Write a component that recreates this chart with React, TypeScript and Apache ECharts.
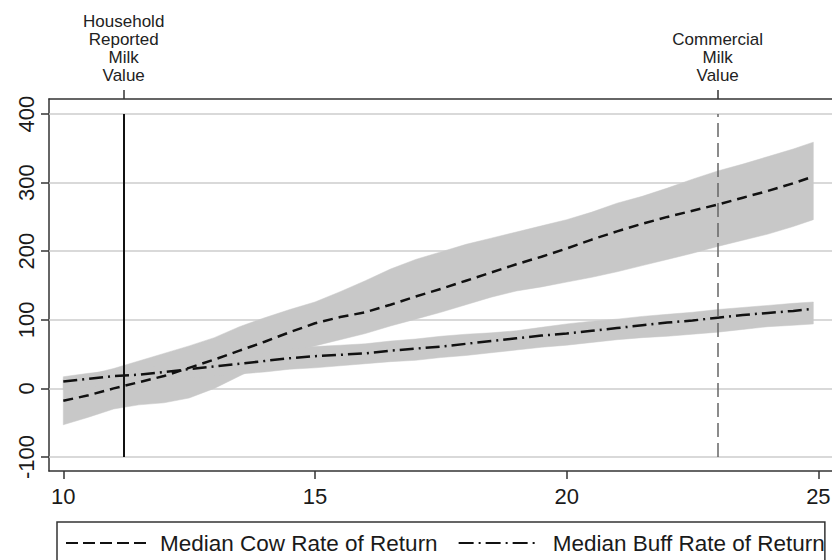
import React, { useEffect, useRef } from "react";
import * as echarts from "echarts";

// Milk value (x) and rates of return (y)
const xValues = [10, 10.5, 11, 11.5, 12, 12.5, 13, 13.5, 14, 14.5, 15, 15.5, 16, 16.5, 17, 17.5, 18, 18.5, 19, 19.5, 20, 20.5, 21, 21.5, 22, 22.5, 23, 23.5, 24, 24.5, 24.9];

const cowMedian = [-18, -10, 0, 9, 18, 30, 42, 55, 68, 82, 95, 104, 111, 122, 134, 145, 157, 169, 181, 192, 204, 217, 229, 240, 250, 259, 268, 278, 288, 299, 309];
const cowUpper = [14, 20, 29, 40, 51, 62, 74, 90, 103, 115, 126, 141, 157, 174, 188, 199, 210, 219, 228, 237, 246, 257, 270, 280, 292, 305, 317, 327, 338, 349, 359];
const cowLower = [-53, -42, -30, -24, -21, -14, 0, 18, 36, 52, 62, 71, 80, 91, 101, 111, 122, 133, 142, 148, 155, 162, 170, 179, 188, 197, 207, 216, 225, 236, 246];

const buffMedian = [10, 14, 18, 20, 24, 28, 32, 36, 40, 44, 47, 49, 51, 55, 58, 61, 65, 69, 73, 77, 80, 84, 88, 92, 96, 99, 103, 107, 110, 113, 116];
const buffUpper = [17, 22, 26, 30, 34, 38, 43, 47, 52, 57, 61, 63, 65, 69, 72, 76, 79, 81, 84, 89, 94, 98, 101, 105, 108, 111, 115, 118, 121, 124, 126];
const buffLower = [-2, 2, 6, 9, 12, 15, 18, 21, 24, 28, 30, 33, 36, 39, 41, 45, 48, 52, 56, 60, 63, 67, 71, 74, 76, 79, 82, 86, 90, 92, 94];

const xTicks = [10, 15, 20, 25];
const yTicks = [-100, 0, 100, 200, 300, 400];
const householdValue = 11.2;
const commercialValue = 23;
const refLineBottom = -100;
const refLineTop = 400;
const householdLabel = "Household\nReported\nMilk\nValue";
const commercialLabel = "Commercial\nMilk\nValue";
const cowName = "Median Cow Rate of Return";
const buffName = "Median Buff Rate of Return";

const FONT = "'Liberation Sans', Arial, sans-serif";

export default function App() {
  const ref = useRef<HTMLDivElement>(null);

  useEffect(() => {
    document.body.style.margin = "0";
    if (!ref.current) return;
    const chart = echarts.init(ref.current, null, { renderer: "svg" });

    const bands = [
      { upper: cowUpper, lower: cowLower },
      { upper: buffUpper, lower: buffLower },
    ];

    const xMin = 9.716;
    const xMax = 25.41;
    const yMin = -120.4;
    const yMax = 421.9;

    const option: any = {
      animation: false,
      backgroundColor: "#ffffff",
      textStyle: { fontFamily: FONT },
      grid: {
        left: 49,
        top: 99,
        width: 790,
        height: 372,
        containLabel: false,
        outerBoundsMode: "none",
      },
      xAxis: [
        {
          type: "value",
          position: "bottom",
          min: xMin,
          max: xMax,
          axisLine: { show: true, onZero: false, lineStyle: { color: "#333", width: 1.5 } },
          axisTick: { show: true, customValues: xTicks, length: 8, lineStyle: { color: "#333", width: 1.5 } },
          axisLabel: {
            customValues: xTicks,
            fontSize: 22,
            color: "#1a1a1a",
            fontFamily: FONT,
            margin: 14,
          },
          splitLine: { show: false },
        },
        {
          type: "value",
          position: "top",
          min: xMin,
          max: xMax,
          axisLine: { show: true, onZero: false, lineStyle: { color: "#333", width: 1.5 } },
          axisTick: {
            show: true,
            customValues: [householdValue, commercialValue],
            length: 9,
            lineStyle: { color: "#333", width: 1.5 },
          },
          axisLabel: {
            customValues: [householdValue, commercialValue],
            formatter: (v: number) => (v < 15 ? householdLabel : commercialLabel),
            fontSize: 17,
            lineHeight: 18,
            color: "#222",
            fontFamily: FONT,
            margin: 15,
            align: "center",
          },
          splitLine: { show: false },
        },
      ],
      yAxis: {
        type: "value",
        min: yMin,
        max: yMax,
        axisLine: { show: true, onZero: false, lineStyle: { color: "#333", width: 1.5 } },
        axisTick: { show: true, customValues: yTicks, length: 8, lineStyle: { color: "#333", width: 1.5 } },
        axisLabel: {
          customValues: yTicks,
          rotate: 90,
          fontSize: 22,
          color: "#1a1a1a",
          fontFamily: FONT,
          margin: 12,
        },
        splitLine: { show: false },
      },
      legend: {
        show: true,
        left: 57,
        top: 522,
        orient: "horizontal",
        padding: [8, 0, 30, 8],
        itemGap: 20,
        itemWidth: 81,
        itemHeight: 14,
        borderColor: "#333",
        borderWidth: 1.5,
        backgroundColor: "#ffffff",
        itemStyle: { opacity: 0 },
        textStyle: {
          fontSize: 22.5,
          lineHeight: 26,
          color: "#1a1a1a",
          fontFamily: FONT,
          padding: [0, 0, 0, 8],
        },
        data: [
          { name: cowName, itemStyle: { opacity: 0 }, lineStyle: { type: [12, 5], width: 2, color: "#111" } },
          { name: buffName, itemStyle: { opacity: 0 }, lineStyle: { type: [15, 5, 2, 5], width: 2, color: "#111" } },
        ],
      },
      series: [
        {
          type: "custom",
          name: "bands",
          xAxisIndex: 0,
          yAxisIndex: 0,
          z: 2,
          silent: true,
          data: bands.map((b, i) => [xValues[0], b.lower[0], i]),
          renderItem: (params: any, api: any) => {
            const b = bands[params.dataIndex];
            const pts: number[][] = [];
            for (let i = 0; i < xValues.length; i++) pts.push(api.coord([xValues[i], b.upper[i]]));
            for (let i = xValues.length - 1; i >= 0; i--) pts.push(api.coord([xValues[i], b.lower[i]]));
            return {
              type: "polygon",
              shape: { points: pts },
              style: { fill: "#c8c8c8", stroke: "#c8c8c8", lineWidth: 0.5 },
            };
          },
          markLine: {
            silent: true,
            z: 1,
            symbol: "none",
            label: { show: false },
            lineStyle: { color: "#cccccc", width: 1.5, type: "solid" },
            data: yTicks.map((v) => ({ yAxis: v })),
          },
        },
        {
          type: "line",
          name: cowName,
          z: 4,
          data: xValues.map((x, i) => [x, cowMedian[i]]),
          symbol: "none",
          showSymbol: false,
          lineStyle: { color: "#111", width: 2.5, type: [10, 6] },
          itemStyle: { color: "#111" },
          markLine: {
            silent: true,
            z: 5,
            symbol: "none",
            label: { show: false },
            data: [
              [
                { coord: [householdValue, refLineBottom], lineStyle: { color: "#111", width: 2, type: "solid" } },
                { coord: [householdValue, refLineTop] },
              ],
              [
                { coord: [commercialValue, refLineBottom], lineStyle: { color: "#666", width: 1.5, type: [14, 6] } },
                { coord: [commercialValue, refLineTop] },
              ],
            ],
          },
        },
        {
          type: "line",
          name: buffName,
          z: 4,
          data: xValues.map((x, i) => [x, buffMedian[i]]),
          symbol: "none",
          showSymbol: false,
          lineStyle: { color: "#111", width: 2.5, type: [14, 5, 2, 5] },
          itemStyle: { color: "#111" },
        },
      ],
    };

    chart.setOption(option);
    return () => chart.dispose();
  }, []);

  return (
    <div
      ref={ref}
      style={{ position: "fixed", left: 0, top: 0, width: 832, height: 560, background: "#fff" }}
    />
  );
}
